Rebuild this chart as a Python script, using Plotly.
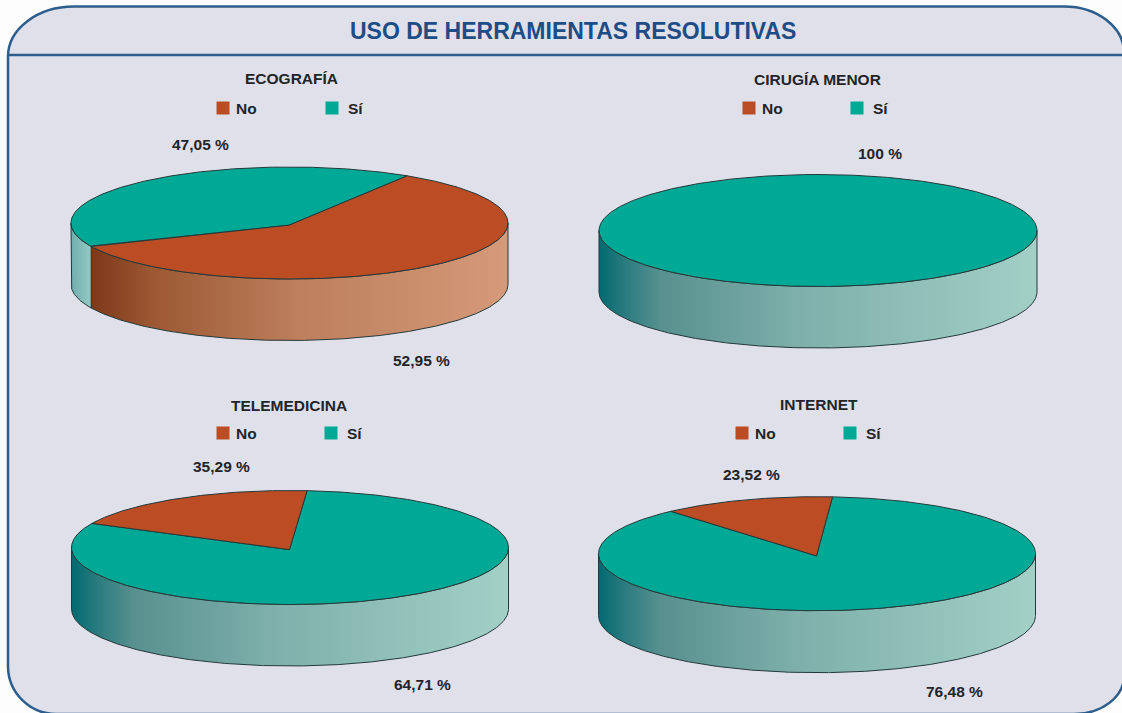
import numpy as np
import plotly.graph_objects as go

# ---- data ----
categories = ["ECOGRAFÍA", "CIRUGÍA MENOR", "TELEMEDICINA", "INTERNET"]
legend_labels = ["No", "Sí"]
no_percent = [52.95, None, 35.29, 23.52]
si_percent = [47.05, 100, 64.71, 76.48]
# share of the disc actually painted as "No" (the drawing differs from its labels) and where it starts
drawn_no_share = [59.05, 0.0, 19.3, 12.8]
drawn_no_start_deg = [32.6, 0.0, 295.0, 318.0]
title_text = "USO DE HERRAMIENTAS RESOLUTIVAS"

# ---- layout (pixel positions on a 1122x713 canvas) ----
W, H = 1122, 713
pies = [
    dict(cx=289.5, cy=223.0, a=218.5, b=56.0, d=61.5, title=(291, 78), leg_no=(223, 108), leg_si=(332, 108),
         no_lab=(421, 360), si_lab=(200, 144)),
    dict(cx=818.0, cy=230.5, a=219.0, b=56.0, d=61.5, title=(817, 79), leg_no=(749, 108), leg_si=(857, 108),
         no_lab=None, si_lab=(880, 153)),
    dict(cx=290.0, cy=547.5, a=218.5, b=57.0, d=61.5, title=(289, 405), leg_no=(223, 433), leg_si=(331, 433),
         no_lab=(221, 466), si_lab=(422.5, 684)),
    dict(cx=817.0, cy=553.7, a=218.5, b=57.0, d=62.0, title=(819, 404), leg_no=(742, 433), leg_si=(850, 433),
         no_lab=(751, 474), si_lab=(954, 691)),
]
RED, TEAL = "#BC4C24", "#00A996"
EDGE = "#23393a"
TEXT = "#222428"
FONT = "Liberation Sans"
TEAL_RAMP = [[0, "#006A70"], [0.06, "#2B7B7F"], [0.14, "#57908F"], [0.45, "#7EAFAA"], [1, "#A2D0C7"]]
TEAL_SHORT = [[0, "#6FAEAE"], [1, "#97C9C3"]]
RED_RAMP = [[0, "#7E3819"], [0.15, "#9C5933"], [0.5, "#BD7F5C"], [1, "#D59A7A"]]


def ring(p, t_deg, dy=0.0):
    t = np.radians(np.asarray(t_deg, dtype=float))
    return p["cx"] + p["a"] * np.sin(t), p["cy"] - p["b"] * np.cos(t) + dy


def arc_range(t0, t1):
    n = max(2, int(abs(t1 - t0) * 2) + 1)
    return np.linspace(t0, t1, n)


fig = go.Figure()


def add_wall(p, t0, t1, ramp):
    ts = arc_range(t0, t1)
    xt, yt = ring(p, ts)
    xb, yb = ring(p, ts[::-1], p["d"])
    x = np.r_[xt, xb, xt[0]]
    y = np.r_[yt, yb, yt[0]]
    fig.add_trace(go.Scatter(
        x=x, y=y, mode="lines", fill="toself",
        line=dict(color=EDGE, width=1),
        fillgradient=dict(type="horizontal", colorscale=ramp, start=float(x.min()), stop=float(x.max())),
        hoverinfo="skip", showlegend=False))


def add_top(p, t0, t1, color, full=False):
    ts = arc_range(t0, t1)
    x, y = ring(p, ts)
    if not full:
        vx, vy = p["cx"] - 0.5, p["cy"] + 2.2
        x = np.r_[vx, x, vx]
        y = np.r_[vy, y, vy]
    fig.add_trace(go.Scatter(
        x=x, y=y, mode="lines", fill="toself", fillcolor=color,
        line=dict(color=EDGE, width=1), hoverinfo="skip", showlegend=False))


def add_visible_walls(p, t0, t1, ramp):
    # the front of the drum spans 90..270 degrees clockwise from north
    for shift in (0, 360, -360):
        lo, hi = max(t0 + shift, 90), min(t1 + shift, 270)
        if hi > lo:
            short = (hi - lo) < 40
            add_wall(p, lo, hi, TEAL_SHORT if (short and ramp is TEAL_RAMP) else ramp)


annotations = []


def label(xy, text, size=15.5, color=TEXT, anchor="center"):
    annotations.append(dict(x=xy[0], y=xy[1], text=text, showarrow=False, xanchor=anchor, yanchor="middle",
                            xshift=0, borderpad=0, borderwidth=0,
                            font=dict(family=FONT, size=size, color=color)))


def pct(v):
    s = f"{v:.2f}".replace(".", ",") if v != int(v) else str(int(v))
    return f"<b>{s} %</b>"


for i, p in enumerate(pies):
    share = drawn_no_share[i]
    start = drawn_no_start_deg[i]
    if share > 0:
        end = start + share * 3.6
        add_visible_walls(p, start, end, RED_RAMP)
        add_visible_walls(p, end, start + 360, TEAL_RAMP)
        add_top(p, end, start + 360, TEAL)
        add_top(p, start, end, RED)
    else:
        add_visible_walls(p, 0, 360, TEAL_RAMP)
        add_top(p, 0, 360, TEAL, full=True)

    # legend swatch + label
    for (lx, ly), name, col, gap in zip((p["leg_no"], p["leg_si"]), legend_labels, (RED, TEAL), (13, 16)):
        fig.add_trace(go.Scatter(
            x=[lx], y=[ly], mode="markers",
            marker=dict(symbol="square", size=13, color=col),
            hoverinfo="skip", showlegend=False))
        label((lx + gap, ly), f"<b>{name}</b>", anchor="left")

    label(p["title"], f"<b>{categories[i]}</b>")
    if no_percent[i] is not None:
        label(p["no_lab"], pct(no_percent[i]))
    label(p["si_lab"], pct(si_percent[i]))

label((573, 31), f"<b>{title_text}</b>", size=23, color="#1E4C85")

# rounded panel + header rule
L, T, R, B = 8, 6.5, 1124, 714
k = 0.5523
panel = (
    f"M {L},{B - 48} L {L},{T + 50} "
    f"C {L},{T + 50 - 50 * k} {L + 66 - 66 * k},{T} {L + 66},{T} "
    f"L {R - 60},{T} "
    f"C {R - 60 + 60 * k},{T} {R},{T + 46 - 46 * k} {R},{T + 46} "
    f"L {R},{B - 38} "
    f"C {R},{B - 38 + 38 * k} {R - 50 + 50 * k},{B} {R - 50},{B} "
    f"L {L + 48},{B} "
    f"C {L + 48 - 48 * k},{B} {L},{B - 48 + 48 * k} {L},{B - 48} Z"
)
shapes = [
    dict(type="path", path=panel, xref="x", yref="y", fillcolor="#DFE0EA",
         line=dict(color="#2C5D8C", width=2.5), layer="below"),
    dict(type="line", x0=L, x1=R, y0=55, y1=55, xref="x", yref="y",
         line=dict(color="#2C5D8C", width=2.5), layer="below"),
]

fig.update_layout(
    width=W, height=H, margin=dict(l=0, r=0, t=0, b=0),
    paper_bgcolor="#FDFDFD", plot_bgcolor="rgba(0,0,0,0)",
    xaxis=dict(range=[0, W], visible=False, fixedrange=True),
    yaxis=dict(range=[H, 0], visible=False, fixedrange=True),
    shapes=shapes, annotations=annotations, showlegend=False,
)

fig.write_html("out.html", config={"displayModeBar": False},
               post_script="document.body.style.margin='0';document.body.style.overflow='hidden';")
